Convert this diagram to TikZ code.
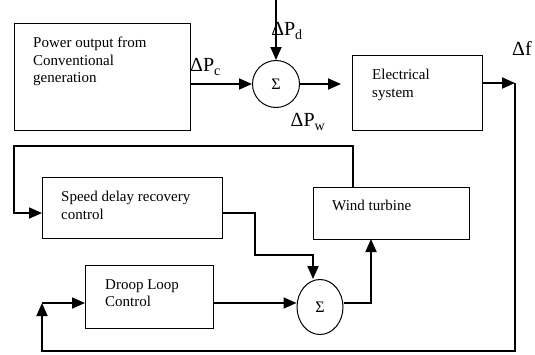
\documentclass[tikz,border=0pt]{standalone}
\usepackage{fontspec}
\setmainfont{Liberation Serif}
\usetikzlibrary{arrows.meta,shapes.geometric}

\begin{document}
\begin{tikzpicture}[x=1pt, y=-1pt,
    >={Triangle[length=13pt,width=11pt]},
    blk/.style={draw, line width=1pt, rectangle, inner sep=0pt, outer sep=0pt},
    sum/.style={draw, line width=1pt, circle, minimum size=47pt, inner sep=0pt, font=\fontsize{16}{18}\selectfont},
    txt/.style={anchor=north west, inner sep=0pt, align=left, font=\fontsize{15}{17.5}\selectfont},
    lbl/.style={inner sep=0pt, font=\fontsize{20}{24}\selectfont},
    edge/.style={->, line width=1.8pt}]

  \useasboundingbox (0,0) rectangle (535,354);

  % blocks
  \node[blk, minimum width=176pt, minimum height=107pt] (pow)   at (102,76.5)  {};
  \node[blk, minimum width=130pt, minimum height=75pt]  (elec)  at (417,92.5)  {};
  \node[blk, minimum width=180pt, minimum height=61pt]  (speed) at (132,207.5) {};
  \node[blk, minimum width=128pt, minimum height=63pt]  (droop) at (149,296.5) {};
  \node[blk, minimum width=156pt, minimum height=52pt]  (wind)  at (391,213)   {};

  \node[txt] (powt)   at (33,37)   {Power output from\\Conventional\\generation};
  \node[txt] (elect)  at (372,69)  {Electrical\\system};
  \node[txt] (speedt) at (61,191)  {Speed delay recovery\\control};
  \node[txt] (droopt) at (105,279) {Droop Loop\\Control};
  \node[txt] (windt)  at (332,200) {Wind turbine};

  % summing points
  \node[sum] (s1) at (276,84) {Σ};
  \node[sum, ellipse, minimum width=46pt, minimum height=55pt] (s2) at (320,307) {Σ};

  % labels
  \node[lbl] (pc) at (205.5,67) {ΔP\textsubscript{c}};
  \node[lbl] (pdl) at (287,31) {ΔP\textsubscript{d}};
  \node[lbl] (pw) at (308,122) {ΔP\textsubscript{w}};
  \node[lbl] (df) at (522,48) {Δf};

  \coordinate (pd) at (276,0);
  \coordinate (fb) at (515,83);
  \coordinate (bl) at (42,351);
  \coordinate (dj) at (42,303);
  \coordinate (sa) at (255,213);
  \coordinate (sb) at (313,255);
  \coordinate (wc) at (371,0);
  \coordinate (wa) at (353,146);
  \coordinate (wb) at (14,146);

  \draw[edge] (pow.east |- s1) -- (s1);
  \draw[edge] (pd) -- (s1);
  \draw[edge, shorten >=11pt] (s1) -- (s1 -| elec.west);
  \draw[edge] (elec.east |- fb) -- (fb);
  \draw[edge] (fb) |- (bl) -- (dj);
  \draw[edge] (dj) -- (dj -| droop.west);
  \draw[edge] (dj -| droop.east) -- (dj -| s2.west);
  \draw[edge] (speed.east |- sa) -- (sa) |- (sb) -- (sb |- s2.north);
  \draw[edge] (dj -| s2.east) -| (wc |- wind.south);
  \draw[edge] (wind.north -| wa) -- (wa) -- (wb) |- (speed.west |- sa);
\end{tikzpicture}
\end{document}
